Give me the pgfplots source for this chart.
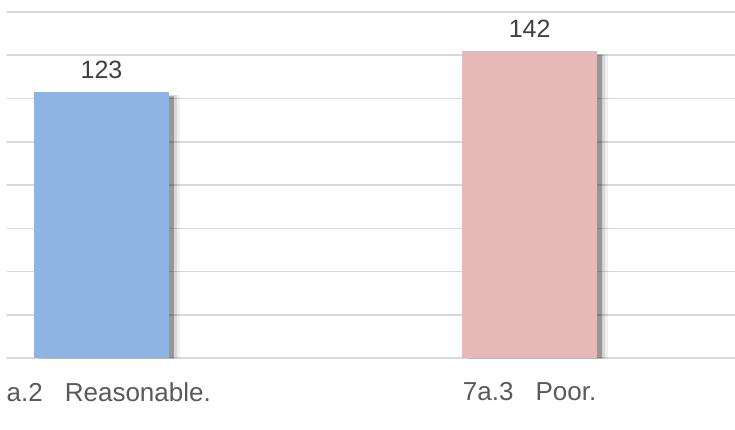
\documentclass[border=0pt]{standalone}
\usepackage{pgfplots}
\pgfplotsset{compat=1.18}
\usepackage{fontspec}
\setmainfont{Liberation Sans}
\definecolor{barblue}{HTML}{8EB4E3}
\definecolor{barpink}{HTML}{E6B9B8}
\definecolor{gridgray}{HTML}{D9D9D9}
\definecolor{labelgray}{HTML}{595959}
\definecolor{valuegray}{HTML}{404040}
\begin{document}
\begin{tikzpicture}
\useasboundingbox (0,0) rectangle (735pt,430pt);
\clip (6.5pt,0) rectangle (735pt,430pt);
\begin{axis}[
  at={(0pt,71.7pt)}, anchor=south west,
  scale only axis, width=760pt, height=346.4pt,
  xmin=-0.237, xmax=1.538, ymin=0, ymax=160,
  ytick={0,20,...,160}, yticklabels={},
  xtick={0,1},
  xticklabels={7a.2\hspace{0.85em}Reasonable., 7a.3\hspace{0.85em}Poor.},
  ymajorgrids, grid style={gridgray, line width=1.6pt},
  axis line style={draw=none}, major tick length=0pt,
  ticklabel style={font=\fontsize{26}{30}\selectfont, text=labelgray},
  xticklabel style={yshift=-21pt},
  /pgf/number format/assume math mode=true,
  ybar, bar width=135pt,
  clip=false,
]
% soft drop shadow behind each bar
\addplot[fill=black, fill opacity=0.06, draw=none, bar shift=11pt, forget plot]
  coordinates {(0,121.5) (1,140.5)};
\addplot[fill=black, fill opacity=0.10, draw=none, bar shift=8pt, forget plot]
  coordinates {(0,121.5) (1,140.5)};
\addplot[fill=black, fill opacity=0.30, draw=none, bar shift=5pt, forget plot]
  coordinates {(0,121) (1,140)};
% the bars themselves
\addplot[fill=barblue, draw=none, bar shift=0pt,
  nodes near coords,
  every node near coord/.append style={font=\fontsize{25}{30}\selectfont, text=valuegray, yshift=9.5pt}]
  coordinates {(0,123)};
\addplot[fill=barpink, draw=none, bar shift=0pt,
  nodes near coords,
  every node near coord/.append style={font=\fontsize{25}{30}\selectfont, text=valuegray, yshift=9.5pt}]
  coordinates {(1,142)};
\end{axis}
\end{tikzpicture}
\end{document}
